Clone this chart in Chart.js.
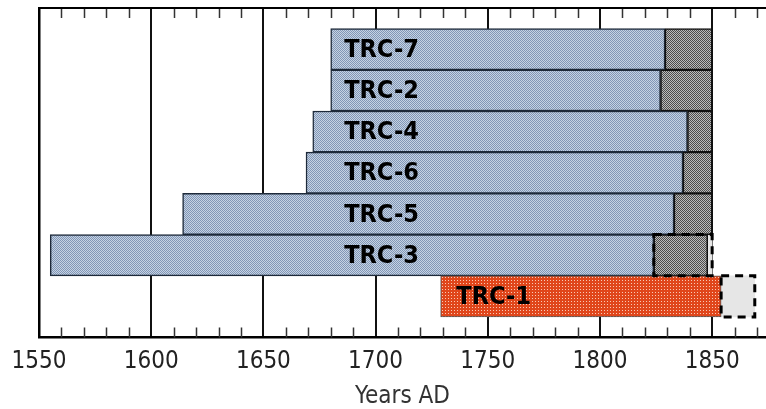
<!DOCTYPE html>
<html>
<head>
<meta charset="utf-8">
<script src="https://cdn.jsdelivr.net/npm/chart.js@4.4.1/dist/chart.umd.min.js"></script>
<style>
  html, body { margin: 0; padding: 0; background: #fff; }
  #wrap { width: 766px; height: 409px; }
</style>
</head>
<body>
<div id="wrap"><canvas id="trcChart"></canvas></div>
<script>
// cores, top to bottom
const cores = ['TRC-7', 'TRC-2', 'TRC-4', 'TRC-6', 'TRC-5', 'TRC-3', 'TRC-1'];
const rows = [1, 2, 3, 4, 5, 6, 7];

// blue part (older section)
const earlyStart = [1680, 1680, 1672, 1669, 1614, 1555, null];
const earlyEnd   = [1829, 1827, 1839, 1837, 1833, 1824, null];
// grey part (recent section)
const lateEnd    = [1850, 1850, 1850, 1850, 1850, 1848, null];
// TRC-1 (orange)
const trc1Start  = [null, null, null, null, null, null, 1729];
const trc1End    = [null, null, null, null, null, null, 1854];
// dashed uncertain parts
const uncStart   = [null, null, null, null, null, 1824, 1854];
const uncEnd     = [null, null, null, null, null, 1850, 1869];

const labelYear  = [1686, 1686, 1686, 1686, 1686, 1686, 1736];

const xMin = 1550, xMax = 1874;
const majorStep = 50, minorStep = 10;

const FONT = "'DejaVu Sans Condensed', 'DejaVu Sans', sans-serif";

function makePattern(size, base, dots) {
    const c = document.createElement('canvas');
    c.width = size; c.height = size;
    const g = c.getContext('2d');
    g.fillStyle = base;
    g.fillRect(0, 0, size, size);
    dots.forEach(d => {
        g.fillStyle = d[2];
        g.fillRect(d[0], d[1], 1, 1);
    });
    return g.createPattern(c, 'repeat');
}

const ctx = document.getElementById('trcChart').getContext('2d');
const bluePat = makePattern(2, '#c6d3e3', [[0, 0, '#8196b6'], [1, 1, '#8196b6']]);
const greyPat = makePattern(2, '#bcbcbc', [[0, 0, '#4c4c4c'], [1, 1, '#4c4c4c']]);
const orangePat = makePattern(3, '#e0461b', [[1, 1, '#f7c9b6']]);

function ranges(starts, ends) {
    const out = [];
    rows.forEach((r, i) => {
        if (starts[i] != null) out.push({ x: [starts[i], ends[i]], y: r });
    });
    return out;
}

const lateStart = earlyEnd;

const framePlugin = {
    id: 'frame',
    beforeDatasetsDraw(chart) {
        const { ctx, chartArea } = chart;
        const xs = chart.scales.x;
        ctx.save();
        ctx.strokeStyle = '#333';
        ctx.lineWidth = 1.5;
        for (let v = xMin + minorStep; v < xMax; v += minorStep) {
            if (v % majorStep === 0) continue;
            const px = Math.round(xs.getPixelForValue(v)) + 0.5;
            ctx.beginPath();
            ctx.moveTo(px, chartArea.top);
            ctx.lineTo(px, chartArea.top + 10);
            ctx.moveTo(px, chartArea.bottom);
            ctx.lineTo(px, chartArea.bottom - 10);
            ctx.stroke();
        }
        ctx.strokeStyle = '#000';
        ctx.lineWidth = 2;
        ctx.beginPath();
        ctx.moveTo(chartArea.left, chartArea.top);
        ctx.lineTo(chartArea.right, chartArea.top);
        ctx.stroke();
        ctx.restore();
    },
    afterDatasetsDraw(chart) {
        const { ctx } = chart;
        const xs = chart.scales.x, ys = chart.scales.y;
        ctx.save();
        // dashed outlines of the uncertain parts
        const meta = chart.getDatasetMeta(0);
        meta.data.forEach(bar => {
            const p = bar.getProps(['x', 'y', 'base', 'height'], true);
            const l = Math.min(p.x, p.base), r = Math.max(p.x, p.base);
            ctx.setLineDash([8, 6]);
            ctx.lineWidth = 3;
            ctx.strokeStyle = '#000';
            ctx.strokeRect(l, p.y - p.height / 2, r - l, p.height);
        });
        ctx.setLineDash([]);
        // core names
        ctx.fillStyle = '#000';
        ctx.font = 'bold 25px ' + FONT;
        ctx.textAlign = 'left';
        ctx.textBaseline = 'middle';
        cores.forEach((name, i) => {
            ctx.fillText(name, xs.getPixelForValue(labelYear[i]), ys.getPixelForValue(rows[i]) + 1);
        });
        ctx.restore();
    }
};

new Chart(ctx, {
    type: 'bar',
    data: {
        datasets: [
            {
                label: 'uncertain',
                data: ranges(uncStart, uncEnd),
                backgroundColor: '#e6e6e6',
                borderWidth: 0,
                order: 4
            },
            {
                label: 'early',
                data: ranges(earlyStart, earlyEnd),
                backgroundColor: bluePat,
                borderColor: '#1e2a3a',
                borderWidth: 1.5,
                borderSkipped: false,
                order: 3
            },
            {
                label: 'late',
                data: ranges(lateStart, lateEnd),
                backgroundColor: greyPat,
                borderColor: '#111',
                borderWidth: 1.5,
                borderSkipped: false,
                order: 2
            },
            {
                label: 'TRC-1',
                data: ranges(trc1Start, trc1End),
                backgroundColor: orangePat,
                borderColor: '#555',
                borderWidth: 1,
                borderSkipped: false,
                order: 1
            }
        ]
    },
    options: {
        indexAxis: 'y',
        responsive: true,
        maintainAspectRatio: false,
        animation: false,
        grouped: false,
        barPercentage: 1,
        categoryPercentage: 1,
        layout: {
            padding: { top: 8, left: 39, right: 0, bottom: 0 }
        },
        scales: {
            x: {
                type: 'linear',
                min: xMin,
                max: xMax,
                offset: false,
                ticks: {
                    stepSize: majorStep,
                    includeBounds: false,
                    padding: 10,
                    color: '#222',
                    font: { family: FONT, size: 24 },
                    callback: v => (v % majorStep === 0 ? String(v) : '')
                },
                grid: {
                    drawTicks: false,
                    color: c => (c.tick && c.tick.value % majorStep === 0 && c.tick.value !== xMin ? '#111' : 'rgba(0,0,0,0)'),
                    lineWidth: 2
                },
                border: { color: '#000', width: 2.5 },
                title: {
                    display: true,
                    text: 'Years AD',
                    color: '#333',
                    font: { family: FONT, size: 24, lineHeight: 0.9 },
                    padding: { top: 0, bottom: 1 }
                }
            },
            y: {
                type: 'linear',
                min: 0,
                max: 8,
                offset: false,
                reverse: true,
                ticks: { display: false },
                grid: { display: false },
                border: { color: '#000', width: 2.5 },
                afterFit: s => { s.width = 0; }
            }
        },
        plugins: {
            legend: { display: false },
            tooltip: { enabled: false }
        }
    },
    plugins: [framePlugin]
});
</script>
</body>
</html>
